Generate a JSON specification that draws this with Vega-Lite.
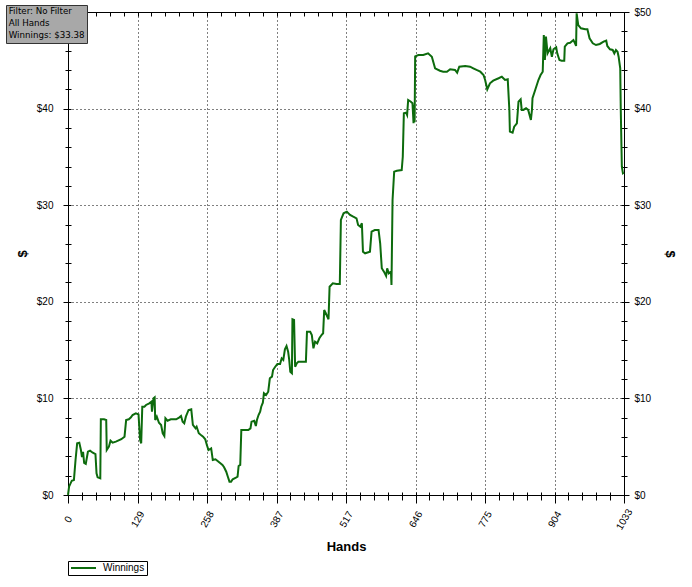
{
  "$schema": "https://vega.github.io/schema/vega-lite/v6.json",
  "width": 556,
  "height": 483,
  "autosize": {"type": "none"},
  "padding": {"left": 68, "top": 12, "right": 68, "bottom": 92},
  "background": "white",
  "config": {"view": {"stroke": "black", "strokeWidth": 1}, "font": "Liberation Sans"},
  "data": {"values": [
    {"hand":0,"winnings":0},{"hand":2,"winnings":0.86},{"hand":7,"winnings":1.48},{"hand":11,"winnings":1.55},{"hand":14,"winnings":3.62},{"hand":17,"winnings":5.35},{"hand":21,"winnings":5.41},{"hand":24,"winnings":4.66},{"hand":26,"winnings":3.93},{"hand":28,"winnings":4.48},{"hand":30,"winnings":3.31},{"hand":33,"winnings":3.21},{"hand":37,"winnings":4.48},{"hand":41,"winnings":4.59},{"hand":46,"winnings":4.38},{"hand":51,"winnings":4.24},{"hand":53,"winnings":2.25},{"hand":55,"winnings":1.83},{"hand":60,"winnings":1.73},{"hand":61,"winnings":7.84},{"hand":67,"winnings":7.84},{"hand":71,"winnings":7.76},{"hand":72,"winnings":4.66},{"hand":76,"winnings":5.0},{"hand":79,"winnings":5.62},{"hand":83,"winnings":5.41},{"hand":89,"winnings":5.52},{"hand":99,"winnings":5.77},{"hand":105,"winnings":6.04},{"hand":108,"winnings":7.76},{"hand":113,"winnings":7.84},{"hand":117,"winnings":8.04},{"hand":120,"winnings":8.28},{"hand":126,"winnings":8.46},{"hand":131,"winnings":8.35},{"hand":134,"winnings":5.69},{"hand":136,"winnings":5.35},{"hand":138,"winnings":9.14},{"hand":142,"winnings":9.14},{"hand":145,"winnings":9.32},{"hand":151,"winnings":9.49},{"hand":155,"winnings":9.66},{"hand":156,"winnings":8.62},{"hand":159,"winnings":10.01},{"hand":161,"winnings":10.11},{"hand":162,"winnings":7.76},{"hand":165,"winnings":8.11},{"hand":169,"winnings":7.48},{"hand":173,"winnings":7.25},{"hand":176,"winnings":6.39},{"hand":179,"winnings":6.11},{"hand":181,"winnings":7.94},{"hand":185,"winnings":7.69},{"hand":191,"winnings":7.84},{"hand":201,"winnings":7.84},{"hand":207,"winnings":8.04},{"hand":210,"winnings":8.18},{"hand":213,"winnings":7.59},{"hand":216,"winnings":7.42},{"hand":219,"winnings":8.11},{"hand":224,"winnings":8.8},{"hand":229,"winnings":8.87},{"hand":232,"winnings":7.25},{"hand":237,"winnings":6.9},{"hand":239,"winnings":7.07},{"hand":243,"winnings":6.39},{"hand":247,"winnings":6.21},{"hand":251,"winnings":6.04},{"hand":255,"winnings":5.77},{"hand":258,"winnings":5.18},{"hand":261,"winnings":4.66},{"hand":266,"winnings":4.83},{"hand":269,"winnings":3.62},{"hand":274,"winnings":3.7},{"hand":278,"winnings":3.52},{"hand":282,"winnings":3.34},{"hand":287,"winnings":3.11},{"hand":290,"winnings":2.87},{"hand":294,"winnings":2.41},{"hand":297,"winnings":1.89},{"hand":300,"winnings":1.38},{"hand":303,"winnings":1.38},{"hand":306,"winnings":1.63},{"hand":312,"winnings":1.79},{"hand":315,"winnings":1.89},{"hand":317,"winnings":3.0},{"hand":320,"winnings":3.11},{"hand":322,"winnings":6.73},{"hand":335,"winnings":6.73},{"hand":339,"winnings":6.9},{"hand":341,"winnings":7.59},{"hand":346,"winnings":7.69},{"hand":349,"winnings":7.14},{"hand":351,"winnings":7.76},{"hand":354,"winnings":8.28},{"hand":357,"winnings":8.62},{"hand":359,"winnings":9.14},{"hand":362,"winnings":9.55},{"hand":364,"winnings":10.53},{"hand":368,"winnings":10.35},{"hand":372,"winnings":10.69},{"hand":375,"winnings":12.08},{"hand":379,"winnings":12.25},{"hand":381,"winnings":12.94},{"hand":385,"winnings":13.28},{"hand":389,"winnings":13.56},{"hand":394,"winnings":13.56},{"hand":397,"winnings":14.15},{"hand":400,"winnings":13.98},{"hand":403,"winnings":15.08},{"hand":406,"winnings":15.42},{"hand":409,"winnings":14.83},{"hand":411,"winnings":13.98},{"hand":413,"winnings":12.76},{"hand":416,"winnings":12.6},{"hand":417,"winnings":18.19},{"hand":420,"winnings":18.12},{"hand":422,"winnings":13.28},{"hand":425,"winnings":13.63},{"hand":428,"winnings":13.8},{"hand":442,"winnings":13.8},{"hand":444,"winnings":16.9},{"hand":450,"winnings":16.9},{"hand":453,"winnings":16.56},{"hand":456,"winnings":15.19},{"hand":459,"winnings":15.87},{"hand":463,"winnings":15.7},{"hand":467,"winnings":16.22},{"hand":471,"winnings":16.56},{"hand":474,"winnings":16.74},{"hand":476,"winnings":19.15},{"hand":479,"winnings":18.81},{"hand":484,"winnings":18.19},{"hand":486,"winnings":21.56},{"hand":492,"winnings":21.92},{"hand":499,"winnings":21.84},{"hand":505,"winnings":21.84},{"hand":507,"winnings":28.47},{"hand":512,"winnings":29.16},{"hand":518,"winnings":29.33},{"hand":524,"winnings":28.99},{"hand":530,"winnings":28.81},{"hand":536,"winnings":28.64},{"hand":539,"winnings":27.95},{"hand":543,"winnings":27.77},{"hand":546,"winnings":28.13},{"hand":548,"winnings":25.19},{"hand":552,"winnings":25.02},{"hand":561,"winnings":25.19},{"hand":564,"winnings":27.26},{"hand":570,"winnings":27.43},{"hand":577,"winnings":27.43},{"hand":580,"winnings":26.06},{"hand":583,"winnings":23.47},{"hand":587,"winnings":23.12},{"hand":591,"winnings":22.67},{"hand":593,"winnings":23.47},{"hand":596,"winnings":22.95},{"hand":600,"winnings":23.12},{"hand":601,"winnings":21.74},{"hand":603,"winnings":30.54},{"hand":606,"winnings":33.47},{"hand":611,"winnings":33.57},{"hand":620,"winnings":33.64},{"hand":622,"winnings":35.02},{"hand":624,"winnings":39.51},{"hand":628,"winnings":39.58},{"hand":630,"winnings":39.34},{"hand":632,"winnings":40.89},{"hand":637,"winnings":40.71},{"hand":640,"winnings":40.55},{"hand":642,"winnings":38.48},{"hand":643,"winnings":40.4},{"hand":644,"winnings":38.6},{"hand":645,"winnings":45.4},{"hand":651,"winnings":45.55},{"hand":660,"winnings":45.55},{"hand":669,"winnings":45.72},{"hand":676,"winnings":45.37},{"hand":682,"winnings":44.17},{"hand":691,"winnings":43.92},{"hand":697,"winnings":43.82},{"hand":704,"winnings":43.82},{"hand":710,"winnings":44.07},{"hand":719,"winnings":44.0},{"hand":723,"winnings":43.72},{"hand":727,"winnings":44.34},{"hand":738,"winnings":44.41},{"hand":747,"winnings":44.34},{"hand":753,"winnings":44.17},{"hand":759,"winnings":44.0},{"hand":766,"winnings":43.82},{"hand":772,"winnings":43.48},{"hand":775,"winnings":42.96},{"hand":779,"winnings":42.0},{"hand":784,"winnings":42.62},{"hand":790,"winnings":42.89},{"hand":800,"winnings":43.14},{"hand":806,"winnings":43.3},{"hand":812,"winnings":42.96},{"hand":817,"winnings":43.03},{"hand":820,"winnings":39.86},{"hand":821,"winnings":37.61},{"hand":826,"winnings":37.5},{"hand":829,"winnings":38.13},{"hand":834,"winnings":38.48},{"hand":837,"winnings":40.71},{"hand":841,"winnings":40.96},{"hand":843,"winnings":39.86},{"hand":846,"winnings":39.86},{"hand":851,"winnings":40.03},{"hand":855,"winnings":39.86},{"hand":860,"winnings":38.82},{"hand":862,"winnings":39.86},{"hand":863,"winnings":41.07},{"hand":868,"winnings":41.93},{"hand":874,"winnings":42.96},{"hand":878,"winnings":43.48},{"hand":882,"winnings":43.82},{"hand":884,"winnings":47.62},{"hand":886,"winnings":45.03},{"hand":888,"winnings":47.45},{"hand":891,"winnings":45.72},{"hand":896,"winnings":46.24},{"hand":899,"winnings":45.37},{"hand":902,"winnings":46.14},{"hand":907,"winnings":46.35},{"hand":909,"winnings":45.72},{"hand":913,"winnings":45.03},{"hand":917,"winnings":44.96},{"hand":922,"winnings":44.96},{"hand":923,"winnings":46.41},{"hand":928,"winnings":46.76},{"hand":933,"winnings":46.82},{"hand":939,"winnings":47.1},{"hand":942,"winnings":46.76},{"hand":944,"winnings":46.48},{"hand":945,"winnings":49.86},{"hand":948,"winnings":48.65},{"hand":953,"winnings":48.31},{"hand":961,"winnings":48.21},{"hand":965,"winnings":48.21},{"hand":969,"winnings":47.28},{"hand":975,"winnings":46.76},{"hand":981,"winnings":46.58},{"hand":988,"winnings":46.69},{"hand":995,"winnings":46.93},{"hand":1000,"winnings":47.03},{"hand":1002,"winnings":46.48},{"hand":1007,"winnings":46.14},{"hand":1012,"winnings":46.07},{"hand":1015,"winnings":45.72},{"hand":1018,"winnings":46.07},{"hand":1021,"winnings":45.89},{"hand":1023,"winnings":45.37},{"hand":1026,"winnings":44.17},{"hand":1027,"winnings":39.86},{"hand":1029,"winnings":33.99},{"hand":1031,"winnings":33.3},{"hand":1033,"winnings":33.38}
  ]},
  "layer": [
    {
      "mark": {"type": "line", "strokeWidth": 2, "interpolate": "linear"},
      "encoding": {
        "x": {
          "field": "hand", "type": "quantitative",
          "scale": {"domain": [0, 1033], "nice": false, "zero": false},
          "axis": {
            "orient": "bottom",
            "values": [0,25.825,51.65,77.475,103.3,129.125,154.95,180.775,206.6,232.425,258.25,284.075,309.9,335.725,361.55,387.375,413.2,439.025,464.85,490.675,516.5,542.325,568.15,593.975,619.8,645.625,671.45,697.275,723.1,748.925,774.75,800.575,826.4,852.225,878.05,903.875,929.7,955.525,981.35,1007.175,1033],
            "offset": -3,
            "domain": false,
            "tickColor": "black",
            "tickSize": {"condition": {"test": "abs(datum.value/129.125 - round(datum.value/129.125)) < 0.001", "value": 11}, "value": 8},
            "labelExpr": "abs(datum.value/129.125 - round(datum.value/129.125)) < 0.001 ? format(datum.value, '.0f') : ''",
            "labelAngle": -60,
            "labelAlign": "center",
            "labelBaseline": "middle",
            "labelPadding": 16,
            "labelFontSize": 10,
            "labelColor": "black",
            "labelOverlap": false,
            "labelFlush": false,
            "grid": true,
            "gridColor": "black",
            "gridDash": [1, 3],
            "gridOpacity": {"condition": {"test": "abs(datum.value/129.125 - round(datum.value/129.125)) < 0.001 && datum.value > 1 && datum.value < 1032", "value": 1}, "value": 0},
            "title": "Hands",
            "titleFontSize": 13,
            "titleFontWeight": "bold",
            "titleColor": "black",
            "titleY": 54,
            "titleBaseline": "middle"
          }
        },
        "y": {
          "field": "winnings", "type": "quantitative",
          "scale": {"domain": [0, 50], "nice": false},
          "axis": {
            "orient": "left",
            "values": [0,2,4,6,8,10,12,14,16,18,20,22,24,26,28,30,32,34,36,38,40,42,44,46,48,50],
            "offset": -3,
            "domain": false,
            "tickColor": "black",
            "tickSize": {"condition": {"test": "datum.value % 10 == 0", "value": 8}, "value": 6},
            "labelExpr": "datum.value % 10 == 0 && datum.value < 50 ? '$' + datum.value : ''",
            "labelPadding": 10,
            "labelFontSize": 10,
            "labelColor": "black",
            "labelOverlap": false,
            "labelFlush": false,
            "grid": true,
            "gridColor": "black",
            "gridDash": [1, 3],
            "gridOpacity": {"condition": {"test": "datum.value % 10 == 0 && datum.value > 0 && datum.value < 50", "value": 1}, "value": 0},
            "title": "$",
            "titleFontSize": 13,
            "titleFontWeight": "bold",
            "titleColor": "black",
            "titleX": -49,
            "titleY": 241.5,
            "titleAlign": "center",
            "titleBaseline": "middle",
            "titleAngle": -90
          }
        },
        "color": {
          "datum": "Winnings",
          "scale": {"range": ["#0d6b0d"]},
          "legend": {
            "title": null,
            "orient": "none",
            "legendX": 0,
            "legendY": 549,
            "strokeColor": "black",
            "fillColor": "white",
            "padding": 2,
            "clipHeight": 10,
            "symbolType": "stroke",
            "symbolSize": 625,
            "symbolStrokeWidth": 2,
            "labelFontSize": 10,
            "labelOffset": 6,
            "labelColor": "black"
          }
        }
      }
    },
    {
      "mark": {"type": "line", "opacity": 0},
      "encoding": {
        "x": {
          "field": "hand", "type": "quantitative",
          "axis": {
            "orient": "top",
            "values": [0,25.825,51.65,77.475,103.3,129.125,154.95,180.775,206.6,232.425,258.25,284.075,309.9,335.725,361.55,387.375,413.2,439.025,464.85,490.675,516.5,542.325,568.15,593.975,619.8,645.625,671.45,697.275,723.1,748.925,774.75,800.575,826.4,852.225,878.05,903.875,929.7,955.525,981.35,1007.175,1033],
            "offset": -4,
            "tickSize": 4,
            "tickColor": "black",
            "domain": false,
            "labels": false,
            "grid": false,
            "title": null
          }
        },
        "y": {
          "field": "winnings", "type": "quantitative",
          "axis": {
            "orient": "right",
            "values": [0,2,4,6,8,10,12,14,16,18,20,22,24,26,28,30,32,34,36,38,40,42,44,46,48,50],
            "offset": -3,
            "domain": false,
            "tickColor": "black",
            "tickSize": {"condition": {"test": "datum.value % 10 == 0", "value": 8}, "value": 6},
            "labelExpr": "datum.value % 10 == 0 ? '$' + datum.value : ''",
            "labelPadding": 5,
            "labelFontSize": 10,
            "labelColor": "black",
            "labelOverlap": false,
            "labelFlush": false,
            "grid": false,
            "title": "$",
            "titleFontSize": 13,
            "titleFontWeight": "bold",
            "titleColor": "black",
            "titleX": 48,
            "titleY": 241.5,
            "titleAlign": "center",
            "titleBaseline": "middle",
            "titleAngle": 90
          }
        }
      }
    },
    {
      "data": {"values": [{"info": "Filter: No Filter"}, {"info": "All Hands"}, {"info": "Winnings: $33.38"}]},
      "mark": {"type": "point", "opacity": 0},
      "encoding": {
        "shape": {
          "field": "info", "type": "nominal", "sort": null,
          "legend": {
            "title": null,
            "orient": "none",
            "legendX": -62,
            "legendY": -7,
            "fillColor": "#a8a8a8",
            "strokeColor": "#333333",
            "padding": 2,
            "symbolSize": 1,
            "symbolOpacity": 0,
            "symbolStrokeWidth": 0,
            "labelOffset": -8,
            "labelFontSize": 8.7,
            "labelFont": "DejaVu Sans",
            "labelColor": "black",
            "labelLimit": 300,
            "rowPadding": 2
          }
        }
      }
    }
  ],
  "resolve": {"axis": {"x": "independent", "y": "independent"}}
}
